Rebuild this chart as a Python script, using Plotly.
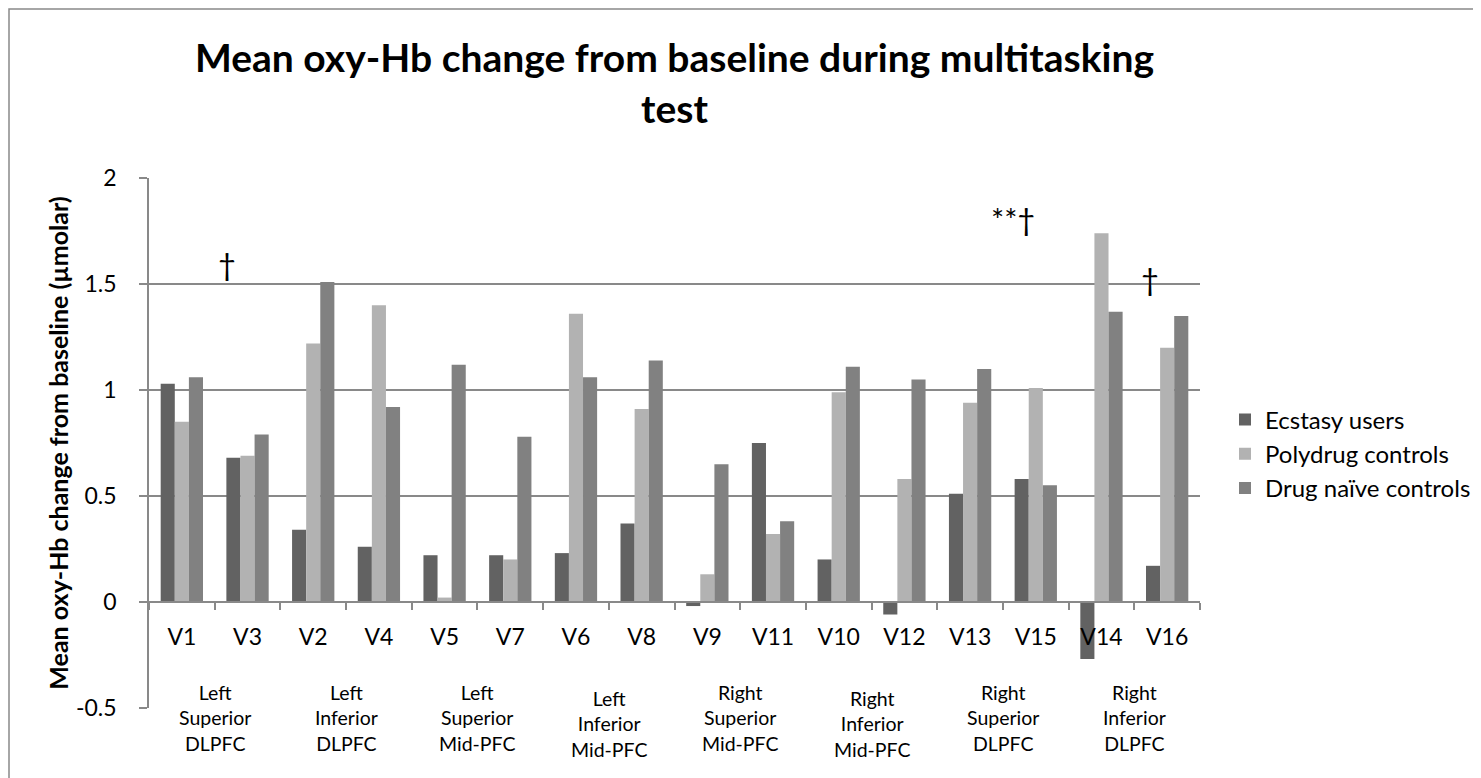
import plotly.graph_objects as go

# ---------------- data ----------------
categories = ["V1", "V3", "V2", "V4", "V5", "V7", "V6", "V8",
              "V9", "V11", "V10", "V12", "V13", "V15", "V14", "V16"]
ecstasy_users = [1.03, 0.68, 0.34, 0.26, 0.22, 0.22, 0.23, 0.37,
                 -0.02, 0.75, 0.20, -0.06, 0.51, 0.58, -0.27, 0.17]
polydrug_controls = [0.85, 0.69, 1.22, 1.40, 0.02, 0.20, 1.36, 0.91,
                     0.13, 0.32, 0.99, 0.58, 0.94, 1.01, 1.74, 1.20]
drug_naive_controls = [1.06, 0.79, 1.51, 0.92, 1.12, 0.78, 1.06, 1.14,
                       0.65, 0.38, 1.11, 1.05, 1.10, 0.55, 1.37, 1.35]
series_names = ["Ecstasy users", "Polydrug controls", "Drug naïve controls"]
region_labels = [
    "Left<br>Superior<br>DLPFC", "Left<br>Inferior<br>DLPFC",
    "Left<br>Superior<br>Mid-PFC", "Left<br>Inferior<br>Mid-PFC",
    "Right<br>Superior<br>Mid-PFC", "Right<br>Inferior<br>Mid-PFC",
    "Right<br>Superior<br>DLPFC", "Right<br>Inferior<br>DLPFC",
]
y_tick_values = [-0.5, 0, 0.5, 1, 1.5, 2]
y_tick_labels = ["-0.5", "0", "0.5", "1", "1.5", "2"]
significance_marks = ["†", "**†", "†"]

# ---------------- styling ----------------
colors = ["#626262", "#b2b2b2", "#818181"]
grey = "#898989"
FONT = "Lato, 'Open Sans', sans-serif"

# the page body adds an 8px margin, so the figure is 8px smaller each way
W, H = 1473, 770
Y_LO, Y_HI = -0.5015, 2.0015          # tiny pad so edge gridlines are drawn


def paper_y(v):
    return (v - Y_LO) / (Y_HI - Y_LO)


fig = go.Figure()
for name, vals, col in zip(series_names,
                           [ecstasy_users, polydrug_controls, drug_naive_controls],
                           colors):
    fig.add_bar(x=categories, y=vals, name=name,
                marker=dict(color=col, line=dict(width=0)))

fig.update_layout(
    width=W, height=H,
    barmode="group", bargap=0.356, bargroupgap=0,
    margin=dict(l=141, r=281, t=170, b=70),
    paper_bgcolor="white", plot_bgcolor="white",
    font=dict(family=FONT, color="black"),
    title=dict(
        text="Mean oxy-Hb change from baseline during multitasking<br>test",
        font=dict(family=FONT, size=39, weight=700, color="black"),
        x=0.5, xref="paper", xanchor="center",
        y=1 - 64 / H, yref="container", yanchor="top",
    ),
    legend=dict(
        xref="container", yref="container",
        x=1217 / W, xanchor="left", y=1 - 446 / H, yanchor="middle",
        font=dict(family=FONT, size=24, color="black"),
        bgcolor="rgba(0,0,0,0)", itemclick=False,
    ),
    showlegend=True,
    xaxis=dict(
        type="category", categoryorder="array", categoryarray=categories,
        range=[-0.5, len(categories) - 0.5],
        anchor="free", position=paper_y(0),
        showline=True, linecolor=grey, linewidth=1.5,
        ticks="outside", tickson="boundaries", ticklen=7, tickcolor=grey,
        tickwidth=1.5,
        tickfont=dict(family=FONT, size=23, color="black"),
        ticklabelstandoff=15,
        showgrid=False, zeroline=False,
    ),
    yaxis=dict(
        range=[Y_LO, Y_HI],
        tickmode="array", tickvals=y_tick_values, ticktext=y_tick_labels,
        showgrid=True, gridcolor=grey, gridwidth=1.5,
        zeroline=False,
        showline=True, linecolor=grey, linewidth=1.5,
        ticks="outside", ticklen=8, tickcolor=grey, tickwidth=1.5,
        tickfont=dict(family=FONT, size=23, color="black"),
        ticklabelstandoff=18,
        title=dict(text="Mean oxy-Hb change from baseline (µmolar)",
                   font=dict(family=FONT, size=25, weight=700, color="black"),
                   standoff=0),
    ),
)

# region (second-level) labels
for i, lab in enumerate(region_labels):
    lower = "Inferior<br>Mid" in lab
    fig.add_annotation(
        x=2 * i + 0.5, y=paper_y(-0.575 if lower else -0.547),
        xref="x", yref="paper",
        text=lab, showarrow=False, yanchor="middle", xanchor="center",
        font=dict(family=FONT, size=19.5, color="black"),
    )

# significance markers
mark_pos = [(0.683, 1.595), (12.653, 1.81), (14.739, 1.525)]
for txt, (px, py) in zip(significance_marks, mark_pos):
    fig.add_annotation(
        x=px, y=py, xref="x", yref="y", text=txt, showarrow=False,
        xanchor="center", yanchor="middle",
        font=dict(family=FONT, size=31, color="black"),
    )

# outer chart border (only top/left edges fall inside the picture)
fig.add_shape(type="rect", xref="paper", yref="paper",
              x0=(1 - 141) / 1051, x1=1.3, y0=-0.2, y1=(700 - 1) / 530,
              line=dict(color=grey, width=1.5), fillcolor="rgba(0,0,0,0)", layer="below")

fig.write_html("out.html")
